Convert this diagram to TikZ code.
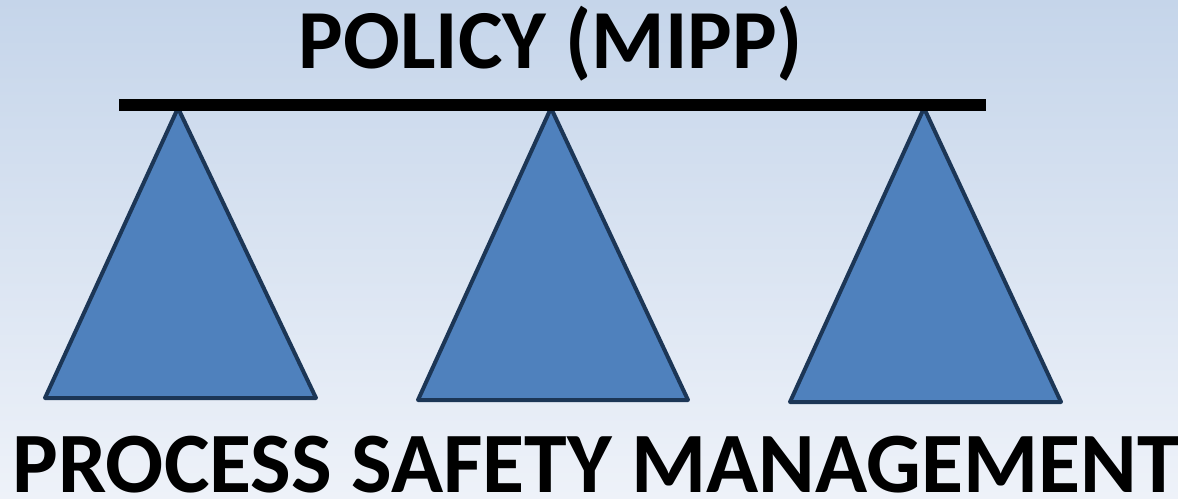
\documentclass[tikz,border=0pt]{standalone}
\usepackage{fontspec}
\setmainfont{Carlito}
\definecolor{bgtop}{HTML}{C5D5EA}
\definecolor{bgbot}{HTML}{EEF2F9}
\definecolor{pillarfill}{HTML}{4F81BD}
\definecolor{pillarline}{HTML}{1C3656}
\begin{document}
\begin{tikzpicture}[x=1pt,y=-1pt,
  pillar/.style={fill=pillarfill,draw=pillarline,line width=4pt,line join=round},
  beam/.style={line width=12pt,black},
  title/.style={font=\fontsize{84}{84}\selectfont\bfseries,inner sep=0pt,anchor=base},
  footer/.style={font=\fontsize{86}{86}\selectfont\bfseries,inner sep=0pt,anchor=base}]
  % background
  \shade[top color=bgtop,bottom color=bgbot] (0,0) rectangle (1178,498);
  \useasboundingbox (0,0) rectangle (1178,498);
  % three pillars
  \draw[pillar] (178,108) -- (316,398) -- (45,398) -- cycle;
  \draw[pillar] (551,108) -- (688,400) -- (418,400) -- cycle;
  \draw[pillar] (924,108) -- (1061,402) -- (790,402) -- cycle;
  % beam carried by the pillars
  \coordinate (bl) at (119,105);
  \coordinate (br) at (986,105);
  \draw[beam] (bl) -- (br);
  % labels
  \node[title] (policy) at (551,68) {POLICY (MIPP)};
  \node[footer] (psm) at (596,492) {PROCESS SAFETY MANAGEMENT};
\end{tikzpicture}
\end{document}
